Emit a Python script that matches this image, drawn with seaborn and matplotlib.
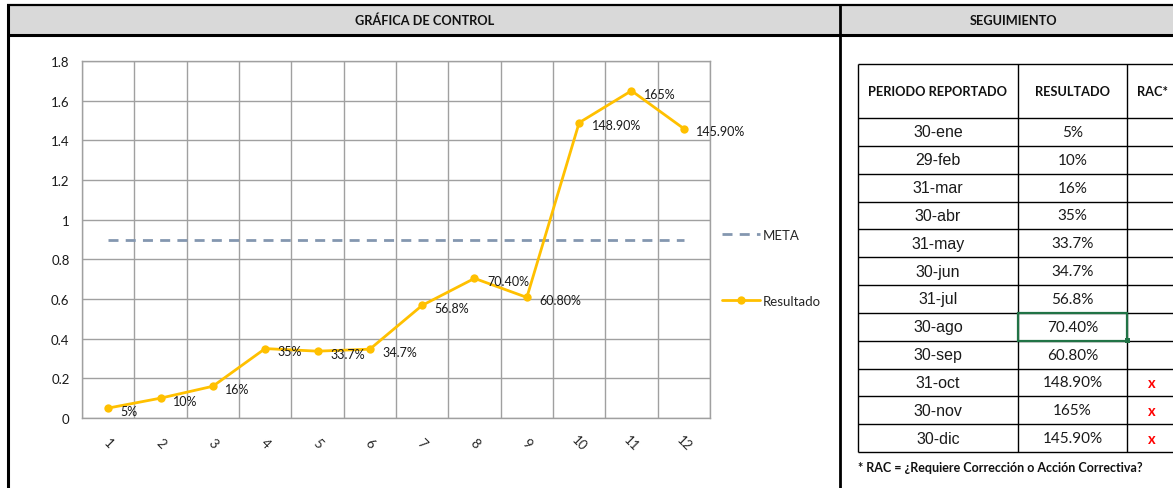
import numpy as np
import pandas as pd
import matplotlib
matplotlib.use("Agg")
import matplotlib.pyplot as plt
from matplotlib import font_manager
from matplotlib.patches import Rectangle
from matplotlib.ticker import FuncFormatter, FixedLocator
import seaborn as sns

# ---------------- data ----------------
periodos_num = [1, 2, 3, 4, 5, 6, 7, 8, 9, 10, 11, 12]
resultados = [0.05, 0.10, 0.16, 0.35, 0.337, 0.347, 0.568, 0.704, 0.608, 1.489, 1.65, 1.459]
etiquetas = ["5%", "10%", "16%", "35%", "33.7%", "34.7%", "56.8%", "70.40%",
             "60.80%", "148.90%", "165%", "145.90%"]
META = 0.9
meta_vals = [META] * len(periodos_num)
fechas = ["30-ene", "29-feb", "31-mar", "30-abr", "31-may", "30-jun", "31-jul",
          "30-ago", "30-sep", "31-oct", "30-nov", "30-dic"]
rac = ["", "", "", "", "", "", "", "", "", "x", "x", "x"]
yticks = [0, 0.2, 0.4, 0.6, 0.8, 1.0, 1.2, 1.4, 1.6, 1.8]

# ---------------- fonts ----------------
sns.set_theme(style="white")
names = {f.name for f in font_manager.fontManager.ttflist}
CAL = "Lato" if "Lato" in names else "DejaVu Sans"
NARROW = "Liberation Sans Narrow" if "Liberation Sans Narrow" in names else "Liberation Sans"
plt.rcParams["font.family"] = [CAL, "DejaVu Sans"]

W, H = 1173, 489
fig = plt.figure(figsize=(W / 100, H / 100), dpi=100)

# background / layout axes in pixel coordinates
bg = fig.add_axes([0, 0, 1, 1])
bg.set_xlim(0, W)
bg.set_ylim(H, 0)
bg.axis("off")
bg.set_zorder(0)

bg.add_patch(Rectangle((8, 7), W - 8, 28, facecolor="#D9D9D9", edgecolor="none"))
bg.plot([7, W], [6, 6], color="black", lw=1.6, solid_capstyle="butt")
bg.plot([7, W], [36, 36], color="black", lw=2.2, solid_capstyle="butt")
bg.plot([8, 8], [5, H], color="black", lw=2.2, solid_capstyle="butt")
bg.plot([840, 840], [5, H], color="black", lw=2.0, solid_capstyle="butt")
bg.text(425, 21, "GRÁFICA DE CONTROL", ha="center", va="center",
        fontsize=9.2, fontweight="bold", color="#111111")
bg.text(1014, 21, "SEGUIMIENTO", ha="center", va="center",
        fontsize=9.2, fontweight="bold", color="#111111")

# ---------------- table ----------------
cols = [858, 1018, 1127, 1177]
top, head_bot, bot = 65, 119, 453
rh = (bot - head_bot) / len(fechas)
ys = [top, head_bot] + [head_bot + rh * (i + 1) for i in range(len(fechas))]
for y in ys:
    bg.plot([cols[0], cols[-1]], [y, y], color="black", lw=1.0, solid_capstyle="butt")
for x in cols:
    bg.plot([x, x], [top, bot], color="black", lw=1.0, solid_capstyle="butt")
hy = (top + head_bot) / 2
bg.text((cols[0] + cols[1]) / 2, hy, "PERIODO REPORTADO", ha="center", va="center",
        fontsize=9.2, fontweight="bold", color="#111111")
bg.text((cols[1] + cols[2]) / 2, hy, "RESULTADO", ha="center", va="center",
        fontsize=9.2, fontweight="bold", color="#111111")
bg.text((cols[2] + cols[3]) / 2, hy, "RAC*", ha="center", va="center",
        fontsize=9.2, fontweight="bold", color="#111111")
for i, (f, e, r) in enumerate(zip(fechas, etiquetas, rac)):
    cy = head_bot + rh * (i + 0.5)
    bg.text((cols[0] + cols[1]) / 2, cy, f, ha="center", va="center",
            fontsize=11.5, family=[NARROW, "DejaVu Sans"], color="#1a1a1a")
    bg.text((cols[1] + cols[2]) / 2, cy, e, ha="center", va="center",
            fontsize=11, color="#1a1a1a")
    if r:
        bg.text((cols[2] + cols[3]) / 2, cy + 1, r, ha="center", va="center",
                fontsize=10.5, fontweight="bold", color="#FF0000")
# selection highlight on 70.40%
sel = fechas.index("30-ago")
sy0 = head_bot + rh * sel
bg.add_patch(Rectangle((cols[1], sy0), cols[2] - cols[1], rh, fill=False,
                       edgecolor="#217346", lw=1.6, zorder=3))
bg.add_patch(Rectangle((cols[2] - 2.5, sy0 + rh - 2.5), 5, 5,
                       facecolor="#217346", edgecolor="none", zorder=3))
bg.text(cols[0], 468, "* RAC = ¿Requiere Corrección o Acción Correctiva?",
        ha="left", va="center", fontsize=9, fontweight="bold", color="#111111")

# ---------------- chart ----------------
x0, x1, y0, y1 = 82, 710, 62, 419
ax = fig.add_axes([x0 / W, 1 - y1 / H, (x1 - x0) / W, (y1 - y0) / H])
ax.set_zorder(2)

df = pd.DataFrame({"periodo": periodos_num, "resultado": resultados, "meta": meta_vals})
sns.lineplot(data=df, x="periodo", y="meta", ax=ax, color="#8497B0", lw=2.0,
             dashes=False, label="META")
ax.lines[-1].set_dashes([3.6, 2.6])
sns.lineplot(data=df, x="periodo", y="resultado", ax=ax, color="#FFC000", lw=2.0,
             marker="o", markersize=6, markeredgewidth=0, label="Resultado")

for xv, yv, t in zip(periodos_num, resultados, etiquetas):
    ax.annotate(t, (xv, yv), xytext=(9, -2), textcoords="offset points",
                ha="left", va="center", fontsize=9, color="#1a1a1a")

ax.set_xlim(0.5, 12.5)
ax.set_ylim(0, 1.8)
ax.yaxis.set_major_locator(FixedLocator(yticks))
ax.yaxis.set_major_formatter(FuncFormatter(lambda v, p: f"{v:g}"))
ax.set_xticks(periodos_num)
ax.set_xticks(np.arange(0.5, 13, 1), minor=True)
ax.set_xticklabels([str(p) for p in periodos_num], rotation=-45, ha="center",
                   va="center", fontsize=9.5, color="#262626")
ax.tick_params(axis="x", which="major", length=0, pad=18)
ax.tick_params(axis="x", which="minor", length=0)
ax.tick_params(axis="y", length=0, pad=9, labelsize=9.5, labelcolor="#1a1a1a")
ax.grid(False)
ax.grid(True, axis="y", which="major", color="#A0A0A0", lw=1.0)
ax.grid(True, axis="x", which="minor", color="#A0A0A0", lw=1.0)
for s in ax.spines.values():
    s.set_color("#A0A0A0")
    s.set_linewidth(1.0)
ax.set_xlabel("")
ax.set_ylabel("")

h, l = ax.get_legend_handles_labels()
ax.legend(h, l, loc="center left", bbox_to_anchor=(722 / W, 1 - 269 / H),
          bbox_transform=fig.transFigure, frameon=False, fontsize=9.5,
          handlelength=2.9, handletextpad=0.2, labelspacing=4.1,
          borderpad=0, borderaxespad=0)

fig.savefig("out.png", dpi=100, facecolor="white")
